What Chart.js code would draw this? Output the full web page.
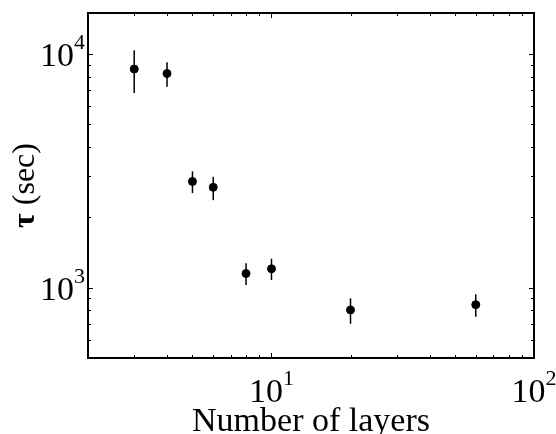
<!DOCTYPE html>
<html>
<head>
<meta charset="utf-8">
<script src="https://cdn.jsdelivr.net/npm/chart.js@4/dist/chart.umd.min.js"></script>
<style>
  html, body { margin: 0; padding: 0; background: #fff; }
  #wrap { width: 556px; height: 434px; }
</style>
</head>
<body>
<div id="wrap"><canvas id="c" width="556" height="434"></canvas></div>
<script>
// Данные: время релаксации tau (сек) от числа слоёв, с ошибками.
const layers  = [3, 4, 5, 6, 8, 10, 20, 60];
const tau     = [8630, 8260, 2850, 2690, 1150, 1205, 803, 846];
const tauLow  = [6820, 7250, 2540, 2370, 1026, 1079, 701, 750];
const tauHigh = [10400, 9240, 3150, 2985, 1272, 1330, 901, 937];

const xRange = [2, 100];
const yRange = [500, 15000];
const xMajor = [10, 100];     // подписи 10^1, 10^2
const yMajor = [1000, 10000]; // подписи 10^3, 10^4

const xTitle = 'Number of layers';
const yTitleSym = 'τ';
const yTitleRest = ' (sec)';

const SERIF = '"Liberation Serif", "Times New Roman", serif';

// Является ли значение «круглым» делением лог-шкалы (1..9 * 10^n).
function isLogTick(v) {
  const e = Math.floor(Math.log10(v) + 1e-9);
  const m = v / Math.pow(10, e);
  return Math.abs(m - Math.round(m)) < 1e-6;
}

// Подпись вида 10^n: основание и показатель меньшим шрифтом.
function drawPow(ctx, exp, x, y, align) {
  ctx.font = '34px ' + SERIF;
  const wb = ctx.measureText('10').width;
  ctx.font = '22px ' + SERIF;
  const we = ctx.measureText(String(exp)).width;
  const total = wb + we;
  let x0 = align === 'right' ? x - total : x - total / 2;
  ctx.textAlign = 'left';
  ctx.textBaseline = 'alphabetic';
  ctx.font = '34px ' + SERIF;
  ctx.fillText('10', x0, y);
  ctx.font = '22px ' + SERIF;
  ctx.fillText(String(exp), x0 + wb, y - 17);
}

const errorBars = {
  id: 'errorBars',
  beforeDatasetsDraw(chart) {
    const { ctx, scales: { x, y } } = chart;
    ctx.save();
    ctx.strokeStyle = '#000';
    ctx.lineWidth = 1.5;
    layers.forEach((l, i) => {
      const px = x.getPixelForValue(l);
      ctx.beginPath();
      ctx.moveTo(px, y.getPixelForValue(tauLow[i]));
      ctx.lineTo(px, y.getPixelForValue(tauHigh[i]));
      ctx.stroke();
    });
    ctx.restore();
  }
};

const frame = {
  id: 'frame',
  afterDraw(chart) {
    const { ctx, chartArea: a, scales: { x, y } } = chart;
    ctx.save();
    ctx.strokeStyle = '#000';
    ctx.fillStyle = '#000';

    // Деления внутрь рамки со всех четырёх сторон
    ctx.lineWidth = 1;
    x.ticks.map(t => t.value).filter(v => isLogTick(v) && v > xRange[0] && v < xRange[1]).forEach(v => {
      const px = Math.round(x.getPixelForValue(v)) + 0.5;
      const len = xMajor.includes(v) ? 5 : 3;
      ctx.beginPath();
      ctx.moveTo(px, a.bottom); ctx.lineTo(px, a.bottom - len);
      ctx.moveTo(px, a.top); ctx.lineTo(px, a.top + len);
      ctx.stroke();
    });
    y.ticks.map(t => t.value).filter(v => isLogTick(v) && v > yRange[0] && v < yRange[1]).forEach(v => {
      const py = Math.round(y.getPixelForValue(v)) + 0.5;
      const len = yMajor.includes(v) ? 5 : 3;
      ctx.beginPath();
      ctx.moveTo(a.left, py); ctx.lineTo(a.left + len, py);
      ctx.moveTo(a.right, py); ctx.lineTo(a.right - len, py);
      ctx.stroke();
    });

    // Рамка
    ctx.lineWidth = 2;
    ctx.strokeRect(a.left, a.top, a.right - a.left, a.bottom - a.top);

    // Подписи делений
    yMajor.forEach(v => {
      drawPow(ctx, Math.round(Math.log10(v)), a.left - 3, y.getPixelForValue(v) + 12, 'right');
    });
    xMajor.forEach(v => {
      drawPow(ctx, Math.round(Math.log10(v)), x.getPixelForValue(v), a.bottom + 44, 'center');
    });

    // Подпись оси X
    ctx.font = '34px ' + SERIF;
    ctx.textAlign = 'center';
    ctx.textBaseline = 'alphabetic';
    ctx.fillText(xTitle, (a.left + a.right) / 2, 431);

    // Подпись оси Y: жирная tau + обычный текст, повернуто
    ctx.translate(34, (a.top + a.bottom) / 2);
    ctx.rotate(-Math.PI / 2);
    ctx.font = 'bold 32px ' + SERIF;
    const w1 = ctx.measureText(yTitleSym).width;
    ctx.font = '32px ' + SERIF;
    const w2 = ctx.measureText(yTitleRest).width;
    const x0 = -(w1 + w2) / 2;
    ctx.textAlign = 'left';
    ctx.font = 'bold 32px ' + SERIF;
    ctx.fillText(yTitleSym, x0, 0);
    ctx.font = '32px ' + SERIF;
    ctx.fillText(yTitleRest, x0 + w1, 0);
    ctx.restore();
  }
};

new Chart(document.getElementById('c'), {
  type: 'scatter',
  data: {
    datasets: [{
      label: 'tau',
      data: layers.map((l, i) => ({ x: l, y: tau[i] })),
      backgroundColor: '#000',
      borderColor: '#000',
      pointRadius: 4,
      pointHoverRadius: 4,
    }]
  },
  options: {
    responsive: false,
    animation: false,
    events: [],
    layout: { padding: { left: 88, top: 13, right: 22, bottom: 76 } },
    plugins: { legend: { display: false }, tooltip: { enabled: false } },
    scales: {
      x: {
        type: 'logarithmic', display: false, min: xRange[0], max: xRange[1],
        ticks: { autoSkip: false }
      },
      y: {
        type: 'logarithmic', display: false, min: yRange[0], max: yRange[1],
        ticks: { autoSkip: false }
      }
    }
  },
  plugins: [errorBars, frame]
});
</script>
</body>
</html>
